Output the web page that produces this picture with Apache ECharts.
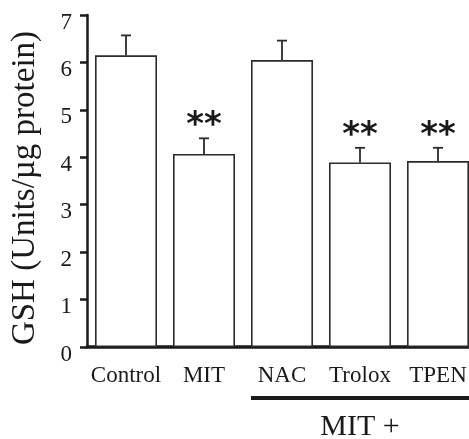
<!DOCTYPE html>
<html>
<head>
<meta charset="utf-8">
<script src="https://cdn.jsdelivr.net/npm/echarts@6/dist/echarts.min.js"></script>
<style>
html,body{margin:0;padding:0;background:#fff;overflow:hidden;width:469px;height:439px;}
#c{width:477px;height:439px;}
</style>
</head>
<body>
<div id="c"></div>
<script>
var categories = ['Control', 'MIT', 'NAC', 'Trolox', 'TPEN'];
var gshMeans = [6.15, 4.07, 6.05, 3.89, 3.92];
var gshErrors = [0.42, 0.33, 0.41, 0.31, 0.28];
var significance = ['', '**', '', '**', '**'];
var yTicks = [0, 1, 2, 3, 4, 5, 6, 7];
var groupLabel = 'MIT +';
var groupStart = 'NAC';
var groupEnd = 'TPEN';

var serif = '"Liberation Serif", "Times New Roman", serif';
var ink = '#1a1a1a';
var BAR_W = 62;

var chart = echarts.init(document.getElementById('c'), null, {renderer: 'canvas'});

var errData = categories.map(function (c, i) {
  return [i, gshMeans[i], gshErrors[i], significance[i]];
});

var option = {
  animation: false,
  backgroundColor: '#fff',
  grid: {left: 87, top: 15, right: 0, bottom: 92, containLabel: false},
  xAxis: {
    type: 'category',
    data: categories,
    axisLine: {lineStyle: {color: ink, width: 3.5}},
    axisTick: {show: false},
    axisLabel: {color: ink, fontFamily: serif, fontSize: 23, margin: 17, interval: 0}
  },
  yAxis: {
    type: 'value',
    min: yTicks[0],
    max: yTicks[yTicks.length - 1],
    interval: 1,
    name: 'GSH (Units/\u00b5g protein)',
    nameLocation: 'middle',
    nameGap: 45,
    nameTextStyle: {color: ink, fontFamily: serif, fontSize: 33, padding: [0, 14, 0, 0]},
    axisLine: {show: true, lineStyle: {color: ink, width: 2.5}},
    axisTick: {show: true, length: 7, lineStyle: {color: ink, width: 2.5}},
    axisLabel: {color: ink, fontFamily: serif, fontSize: 23, margin: 15, verticalAlign: 'top', lineHeight: 15},
    splitLine: {show: false}
  },
  series: [
    {
      type: 'bar',
      data: gshMeans,
      barWidth: BAR_W,
      itemStyle: {color: '#fff', borderColor: '#2b2b2b', borderWidth: 1.6},
      z: 2
    },
    {
      type: 'custom',
      data: errData,
      z: 3,
      renderItem: function (params, api) {
        var idx = api.value(0);
        var mean = api.value(1);
        var err = api.value(2);
        var sig = errData[params.dataIndex][3];
        var p0 = api.coord([idx, mean]);
        var p1 = api.coord([idx, mean + err]);
        var st = {stroke: '#2b2b2b', lineWidth: 1.8};
        var children = [
          {type: 'line', shape: {x1: p0[0], y1: p0[1], x2: p1[0], y2: p1[1]}, style: st},
          {type: 'line', shape: {x1: p1[0] - 5, y1: p1[1], x2: p1[0] + 5, y2: p1[1]}, style: st}
        ];
        if (sig) {
          children.push({
            type: 'text',
            style: {
              text: sig,
              x: p1[0], y: p1[1] - 12,
              align: 'center', verticalAlign: 'middle',
              font: 'bold 34px "DejaVu Sans", sans-serif',
              fill: ink
            }
          });
        }
        return {type: 'group', children: children};
      }
    }
  ]
};
chart.setOption(option);

// Group bracket under NAC..TPEN, positioned through the axis scale
var iS = categories.indexOf(groupStart), iE = categories.indexOf(groupEnd);
var pS = chart.convertToPixel({gridIndex: 0}, [iS, 0]);
var pE = chart.convertToPixel({gridIndex: 0}, [iE, 0]);
var pS1 = chart.convertToPixel({gridIndex: 0}, [iS + 1, 0]);
var band = pS1[0] - pS[0];
chart.setOption({
  graphic: [
    {
      type: 'line',
      shape: {x1: pS[0] - BAR_W / 2, y1: pS[1] + 51, x2: pE[0] + band / 2, y2: pS[1] + 51},
      style: {stroke: ink, lineWidth: 4}
    },
    {
      type: 'text',
      x: (pS[0] + pE[0]) / 2,
      y: pS[1] + 80,
      style: {
        text: groupLabel,
        x: 0, y: 0,
        align: 'center', verticalAlign: 'middle',
        font: '30px ' + serif,
        fill: ink
      }
    }
  ]
});
</script>
</body>
</html>
